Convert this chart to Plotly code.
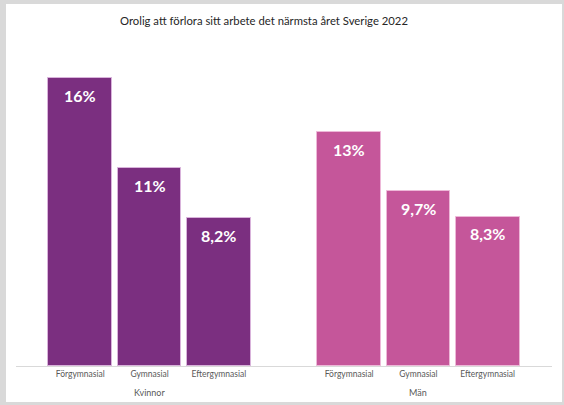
import plotly.graph_objects as go

# Share worried about losing their job within the next year, Sweden 2022 (%)
groups = ["Kvinnor", "Män"]
levels = ["Förgymnasial", "Gymnasial", "Eftergymnasial"]
kvinnor = [16, 11, 8.2]
man = [13, 9.7, 8.3]
title = "Orolig att förlora sitt arbete det närmsta året Sverige 2022"

colors = ["#7B2F80", "#C5569A"]
edge_colors = ["#D9B3DB", "#EDB8D8"]
group_gap = 3.88          # distance between first bars of the two groups (in bar slots)
bar_width = 0.92

W, H = 564, 405
ml, mr, mt, mb = 16, 12, 60, 39
plot_w, plot_h = W - ml - mr, H - mt - mb


def px_x(p):
    return (p - ml) / plot_w


def px_y(p):
    return (H - mb - p) / plot_h


def fmt(v):
    return f"{v:g}".replace(".", ",") + "%"


fig = go.Figure()
tickvals, ticktext, annotations = [], [], []
for g, (name, vals) in enumerate(zip(groups, [kvinnor, man])):
    xs = [g * group_gap + i for i in range(len(levels))]
    fig.add_trace(go.Bar(
        x=xs, y=vals, width=bar_width, name=name,
        marker=dict(color=colors[g], line=dict(color=edge_colors[g], width=1)),
        hoverinfo="skip",
    ))
    tickvals += xs
    ticktext += levels
    for x, v in zip(xs, vals):
        annotations.append(dict(
            x=x, y=v, xref="x", yref="y", text=fmt(v), showarrow=False,
            yanchor="middle", yshift=-17,
            font=dict(family="Lato", size=16, color="white", weight="bold"),
        ))
    annotations.append(dict(
        x=sum(xs) / len(xs), y=px_y(392), xref="x", yref="paper", text=name,
        showarrow=False, yanchor="middle",
        font=dict(family="Lato", size=9, color="#595959"),
    ))

annotations.append(dict(
    x=px_x(264), y=px_y(20), xref="paper", yref="paper", text=title,
    showarrow=False, xanchor="center", yanchor="middle",
    font=dict(family="Lato", size=11.3, color="#262626"),
))

x_left = -(80.5 - ml) / 69.5
x_right = 2 + group_gap + (W - mr - 487.5) / 69.5

fig.update_layout(
    width=W, height=H,
    margin=dict(l=ml, r=mr, t=mt, b=mb, pad=0),
    paper_bgcolor="#D9D9D9",
    plot_bgcolor="rgba(0,0,0,0)",
    showlegend=False,
    bargap=0,
    annotations=annotations,
    shapes=[dict(
        type="rect", xref="paper", yref="paper", layer="below",
        x0=px_x(6), x1=px_x(562), y0=px_y(402), y1=px_y(4),
        fillcolor="white", line=dict(width=0),
    )],
    xaxis=dict(
        range=[x_left, x_right], tickvals=tickvals, ticktext=ticktext,
        showgrid=False, zeroline=False, showline=True, linecolor="#D9D9D9",
        linewidth=1, ticks="", tickfont=dict(family="Lato", size=8.5, color="#595959"),
        fixedrange=True,
    ),
    yaxis=dict(
        range=[0, plot_h / 18.0], visible=False, showgrid=False, zeroline=False,
        fixedrange=True,
    ),
)

fig.write_html("out.html")
